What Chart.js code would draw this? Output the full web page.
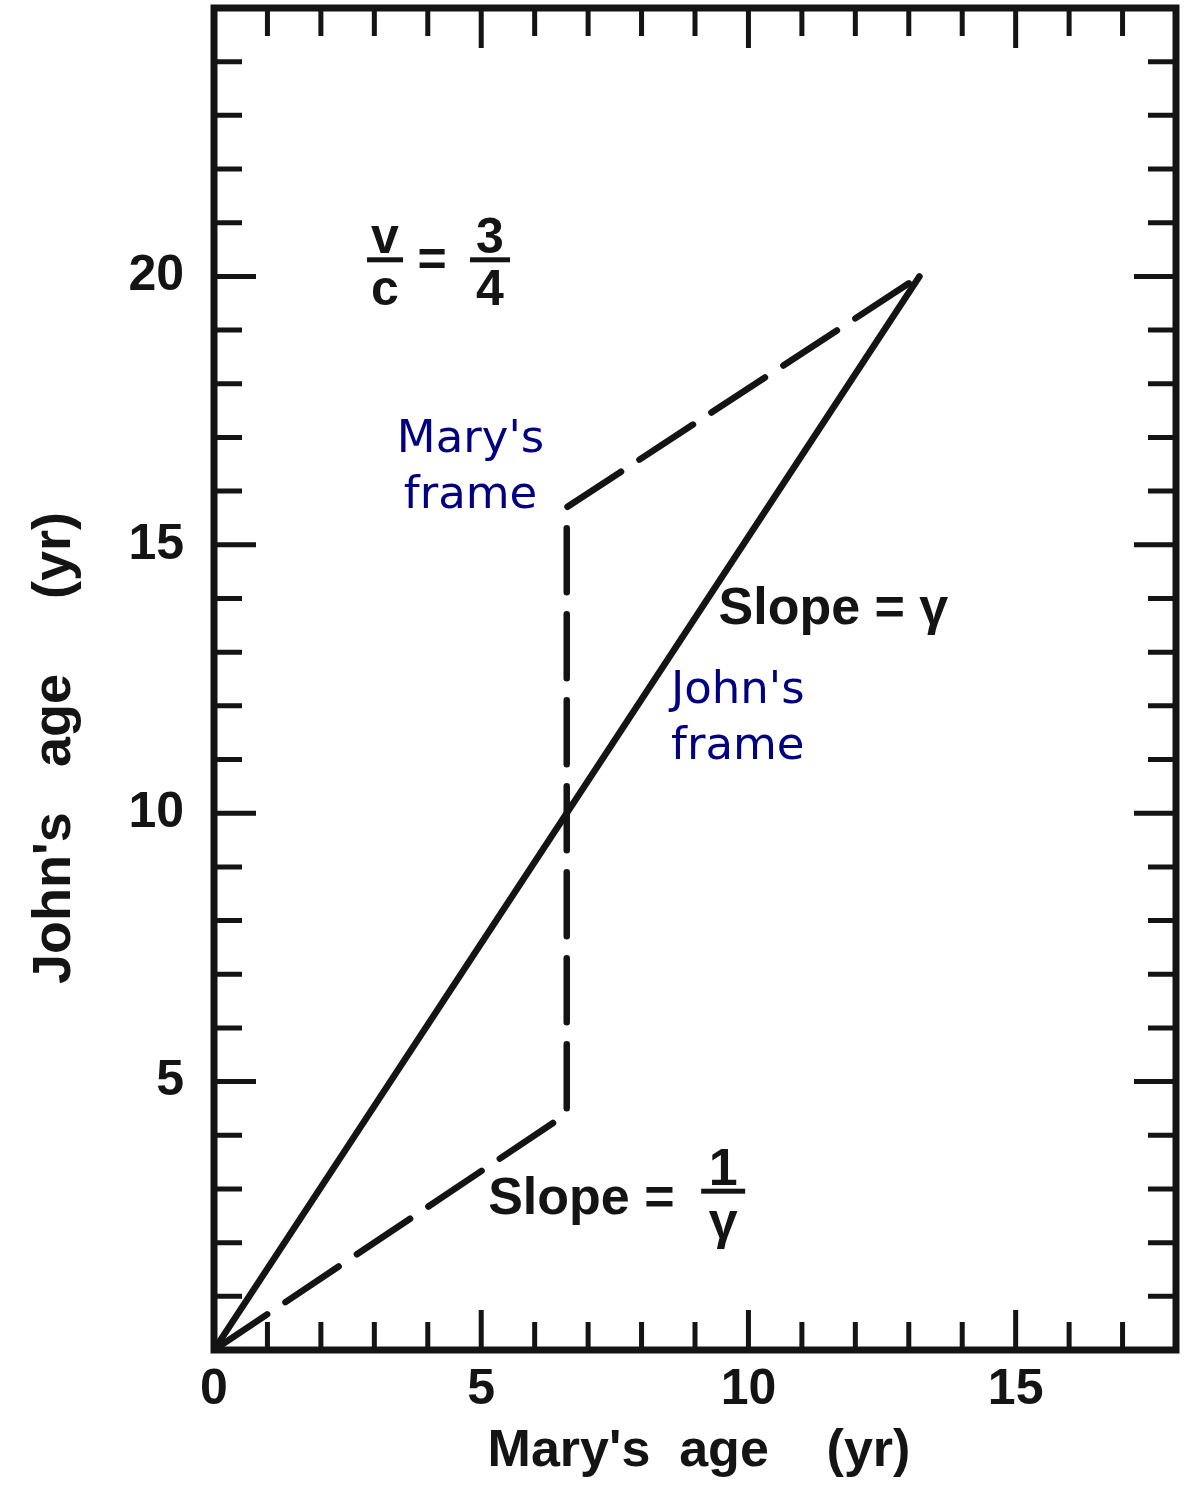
<!DOCTYPE html>
<html>
<head>
<meta charset="utf-8">
<script src="https://cdn.jsdelivr.net/npm/chart.js@4.4.1/dist/chart.umd.min.js"></script>
<style>
  body { margin: 0; background: #fff; }
  #wrap { width: 1188px; height: 1486px; }
</style>
</head>
<body>
<div id="wrap"><canvas id="grafico"></canvas></div>
<script>
// dados (anos)
const johnFrameX = [0, 13.2];           // idade da Mary
const johnFrameY = [0, 20];             // idade do John
const maryFrameX = [0, 6.6, 6.6, 13.2];
const maryFrameY = [0, 4.4, 15.7, 20];

const xTickLabels = [0, 5, 10, 15];
const yTickLabels = [5, 10, 15, 20];

const TINTA = '#141414';
const AZUL = '#000080';
const FONTE = '"Liberation Sans", Arial, sans-serif';

// textos soltos no gráfico (posição em unidades dos eixos)
const notas = {
  vc: { x: 3.2, y: 20.3 },
  slopeG: { x: 9.44, y: 13.8 },
  slopeInvG: { x: 5.13, y: 2.8 },
  maryFrame: { x: 4.8, y: 16.42 },
  johnFrame: { x: 9.8, y: 11.74 }
};

function fracao(ctx, num, den, cx, cy, w) {
  ctx.textAlign = 'center';
  ctx.textBaseline = 'alphabetic';
  ctx.fillText(num, cx, cy - 7);
  ctx.fillRect(cx - w / 2, cy - 3, w, 5);
  ctx.textBaseline = 'top';
  ctx.fillText(den, cx, cy + 6);
}

const moldura = {
  id: 'moldura',
  afterDraw(chart) {
    const { ctx, chartArea: a, scales: { x, y } } = chart;
    ctx.save();
    ctx.strokeStyle = TINTA;
    ctx.lineCap = 'butt';

    // ticks para dentro nos quatro lados
    ctx.lineWidth = 5;
    for (let v = 1; v < 18; v++) {
      const px = x.getPixelForValue(v);
      const len = v % 5 === 0 ? 40 : 28;
      ctx.beginPath();
      ctx.moveTo(px, a.bottom); ctx.lineTo(px, a.bottom - len);
      ctx.moveTo(px, a.top); ctx.lineTo(px, a.top + len);
      ctx.stroke();
    }
    for (let v = 1; v < 25; v++) {
      const py = y.getPixelForValue(v);
      const len = v % 5 === 0 ? 42 : 28;
      ctx.beginPath();
      ctx.moveTo(a.left, py); ctx.lineTo(a.left + len, py);
      ctx.moveTo(a.right, py); ctx.lineTo(a.right - len, py);
      ctx.stroke();
    }
    ctx.lineWidth = 7;
    ctx.strokeRect(a.left, a.top, a.right - a.left, a.bottom - a.top);

    // títulos dos eixos
    ctx.fillStyle = TINTA;
    ctx.font = 'bold 52px ' + FONTE;
    ctx.textAlign = 'center';
    ctx.textBaseline = 'middle';
    ctx.fillText("Mary's  age    (yr)", (a.left + a.right) / 2 + 4, 1452);
    ctx.save();
    ctx.translate(55, 748);
    ctx.rotate(-Math.PI / 2);
    ctx.font = 'bold 54px ' + FONTE;
    ctx.fillText("John's   age     (yr)", 0, 0);
    ctx.restore();

    // v/c = 3/4
    ctx.font = 'bold 50px ' + FONTE;
    let px = x.getPixelForValue(notas.vc.x), py = y.getPixelForValue(notas.vc.y);
    fracao(ctx, 'v', 'c', px, py, 36);
    ctx.textBaseline = 'middle';
    ctx.fillText('=', px + 47, py + 2);
    fracao(ctx, '3', '4', px + 105, py, 40);

    // Slope = γ
    ctx.font = 'bold 52px ' + FONTE;
    px = x.getPixelForValue(notas.slopeG.x); py = y.getPixelForValue(notas.slopeG.y);
    ctx.textAlign = 'left';
    ctx.textBaseline = 'middle';
    ctx.fillText('Slope = \u03b3', px, py);

    // Slope = 1/γ
    px = x.getPixelForValue(notas.slopeInvG.x); py = y.getPixelForValue(notas.slopeInvG.y);
    ctx.textAlign = 'left';
    ctx.textBaseline = 'middle';
    ctx.fillText('Slope =', px, py);
    fracao(ctx, '1', '\u03b3', px + 235, py - 8, 44);

    // rótulos azuis
    ctx.fillStyle = AZUL;
    ctx.font = '45px "DejaVu Sans", Verdana, sans-serif';
    ctx.textAlign = 'center';
    ctx.textBaseline = 'middle';
    for (const [nota, l1, l2] of [[notas.maryFrame, "Mary's", 'frame'], [notas.johnFrame, "John's", 'frame']]) {
      px = x.getPixelForValue(nota.x); py = y.getPixelForValue(nota.y);
      ctx.fillText(l1, px, py - 28);
      ctx.fillText(l2, px, py + 28);
    }
    ctx.restore();
  }
};

new Chart(document.getElementById('grafico'), {
  type: 'scatter',
  data: {
    datasets: [
      {
        label: "John's frame",
        data: johnFrameX.map((v, i) => ({ x: v, y: johnFrameY[i] })),
        showLine: true,
        borderColor: TINTA,
        borderWidth: 6.5,
        pointRadius: 0,
        borderCapStyle: 'round'
      },
      {
        label: "Mary's frame",
        data: maryFrameX.map((v, i) => ({ x: v, y: maryFrameY[i] })),
        showLine: true,
        borderColor: TINTA,
        borderWidth: 6.5,
        borderDash: [64, 22],
        pointRadius: 0,
        borderCapStyle: 'round'
      }
    ]
  },
  options: {
    responsive: true,
    maintainAspectRatio: false,
    animation: false,
    layout: { padding: { top: 8, right: 12, left: 0, bottom: 0 } },
    plugins: { legend: { display: false }, tooltip: { enabled: false } },
    scales: {
      x: {
        type: 'linear',
        min: 0, max: 18,
        grid: { display: false },
        border: { display: false },
        ticks: {
          stepSize: 1,
          autoSkip: false,
          maxRotation: 0,
          padding: 2,
          color: TINTA,
          font: { family: FONTE, size: 50, weight: 'bold' },
          callback: v => xTickLabels.includes(v) ? String(v) : ''
        },
        afterFit: s => { s.height = 136; s.paddingLeft = 0; s.paddingRight = 0; }
      },
      y: {
        type: 'linear',
        min: 0, max: 25,
        grid: { display: false },
        border: { display: false },
        ticks: {
          stepSize: 1,
          autoSkip: false,
          padding: 22,
          color: TINTA,
          font: { family: FONTE, size: 50, weight: 'bold' },
          callback: v => yTickLabels.includes(v) ? String(v) : ''
        },
        afterFit: s => { s.width = 214; s.paddingTop = 0; s.paddingBottom = 0; }
      }
    }
  },
  plugins: [moldura]
});
</script>
</body>
</html>
